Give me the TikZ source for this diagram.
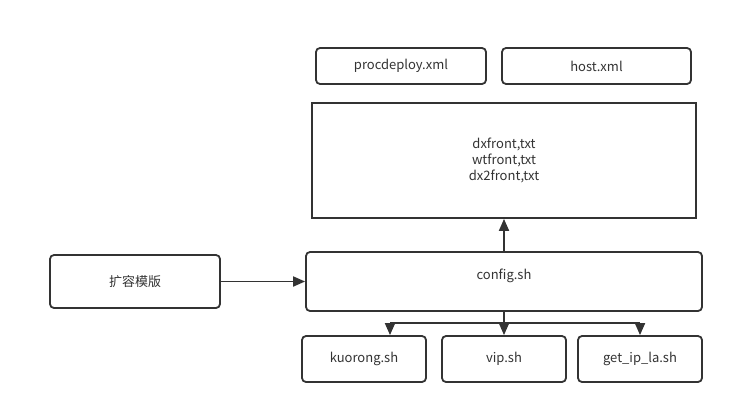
\documentclass[tikz,border=0pt]{standalone}
\usepackage{fontspec}
\newfontfamily\cjk{Noto Sans CJK SC}
\usetikzlibrary{arrows.meta}
\definecolor{linegray}{HTML}{333333}
\tikzset{
  box/.style={draw=linegray, line width=1.8pt, fill=white, rounded corners=4pt,
    inner sep=0pt, font=\cjk\fontsize{13}{16}\selectfont, text=linegray},
  flatbox/.style={box, rounded corners=0pt, align=center},
  link/.style={draw=linegray, line width=1.8pt, -{Triangle[width=10pt,length=12pt]}}
}
\begin{document}
\begin{tikzpicture}[x=1pt, y=-1pt]

% canvas
\fill[white] (0,0) rectangle (735,415);
\useasboundingbox (0,0) rectangle (735,415);

% top files
\node[box, minimum width=170pt, minimum height=36pt] (proc) at (401,66) {procdeploy.xml};
\node[box, minimum width=189pt, minimum height=36pt] (host) at (596.5,66) {host.xml};

% front lists
\node[flatbox, minimum width=384pt, minimum height=115pt] (front) at (504,160.5)
  {dxfront,txt\\wtfront,txt\\dx2front,txt};

% template and config
\node[box, minimum width=170pt, minimum height=53pt] (tpl) at (135,281.5) {扩容模版};
\node[box, minimum width=396pt, minimum height=59pt, text height=10pt, text depth=15pt]
  (config) at (504,281.5) {config.sh};

% scripts
\node[box, minimum width=124pt, minimum height=46pt] (kuorong) at (364,359) {kuorong.sh};
\node[box, minimum width=124pt, minimum height=46pt] (vip) at (504,359) {vip.sh};
\node[box, minimum width=124pt, minimum height=46pt] (getip) at (640,359) {get\_ip\_la.sh};

% arrows
\draw[link] (tpl) -- (config);
\draw[link] (config) -- (front);
\draw[link] (config) -- (vip);

% split to the side scripts
\coordinate (bl) at (390,323);
\coordinate (br) at (640,323);
\draw[linegray, line width=1.8pt] (bl) -- (br);
\draw[link] (bl) -- (bl |- kuorong.north);
\draw[link] (br) -- (getip);

\end{tikzpicture}
\end{document}
